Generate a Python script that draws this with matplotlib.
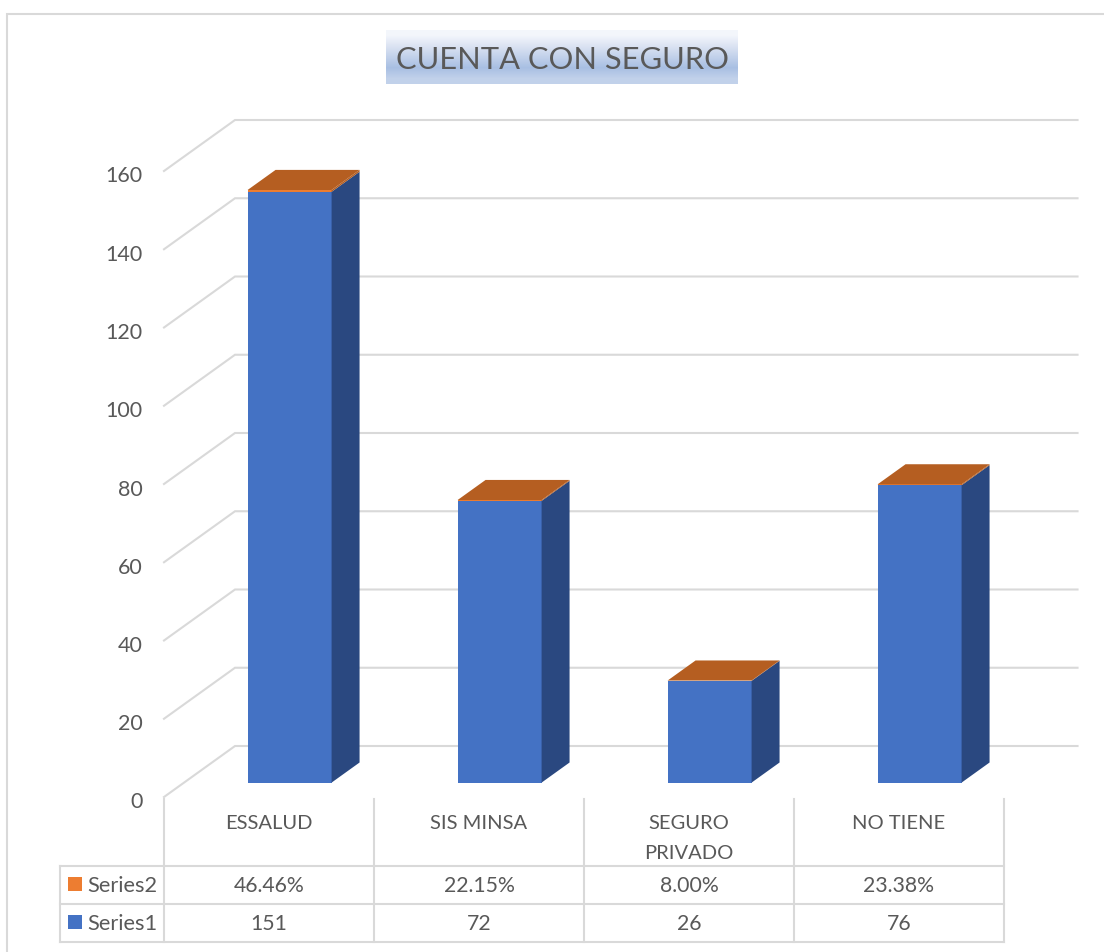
import numpy as np
import matplotlib.pyplot as plt
from matplotlib.patches import Polygon, Rectangle
from matplotlib.transforms import ScaledTranslation

plt.rcParams['font.family'] = ['Lato', 'DejaVu Sans']

title = 'CUENTA CON SEGURO'
categories = ['ESSALUD', 'SIS MINSA', 'SEGURO\nPRIVADO', 'NO TIENE']
series1 = [151, 72, 26, 76]
series2 = [0.4646, 0.2215, 0.08, 0.2338]
series2_labels = ['46.46%', '22.15%', '8.00%', '23.38%']
y_ticks = [0, 20, 40, 60, 80, 100, 120, 140, 160]

W, H = 1104, 952
TEXT = '#595959'
GRID = '#D9D9D9'
BLUE, BLUE_SIDE = '#4472C4', '#2A4880'
ORANGE, ORANGE_SIDE = '#ED7D31', '#B55E21'

# how far the back wall is moved from the front plane, in data units
DEPTH_X = 71 / 210
DEPTH_Y = 51 / (626 / 160)
BAR_DROP = 0.1  # bars sit a little lower than the projection gives


def project(x, y, d):
    return x + d * DEPTH_X, y + d * DEPTH_Y


fig = plt.figure(figsize=(W / 100, H / 100), dpi=100)

# pixel layer for frame, title box and table
bg = fig.add_axes([0, 0, 1, 1])
bg.set_xlim(0, W)
bg.set_ylim(H, 0)
bg.axis('off')

ax = fig.add_axes([164 / W, (H - 797) / H, 840 / W, 626 / H])
ax.set_xlim(0, 4)
ax.set_ylim(0, 160)
ax.patch.set_alpha(0)
for s in ax.spines.values():
    s.set_visible(False)
ax.set_xticks([])
ax.set_yticks(y_ticks)
ax.tick_params(axis='y', length=0, pad=15.5, labelsize=15.5, labelcolor=TEXT)
# labels sit a few pixels under their gridline
shift = ScaledTranslation(0, -3.5 / 100, fig.dpi_scale_trans)
for lab in ax.get_yticklabels():
    lab.set_transform(lab.get_transform() + shift)

# walls
for v in y_ticks:
    x0, y0 = project(0, v, 1)
    x1, y1 = project(4.012, v, 1)
    ax.plot([0, x0, x1], [v, y0, y1], color=GRID, lw=1.5, clip_on=False, zorder=1,
            solid_joinstyle='miter')

# bars
bar_w = 0.4
d0, d1 = 0.29, 0.29 + 0.394
for i, (a, b) in enumerate(zip(series1, series2)):
    left = i + 0.5 - bar_w / 2
    right = left + bar_w
    top = a + b
    faces = [
        ([(left, 0, d0), (right, 0, d0), (right, a, d0), (left, a, d0)], BLUE),
        ([(left, a, d0), (right, a, d0), (right, top, d0), (left, top, d0)], ORANGE),
        ([(right, 0, d0), (right, 0, d1), (right, a, d1), (right, a, d0)], BLUE_SIDE),
        ([(right, a, d0), (right, a, d1), (right, top, d1), (right, top, d0)], ORANGE_SIDE),
        ([(left, top, d0), (right, top, d0), (right, top, d1), (left, top, d1)], ORANGE_SIDE),
    ]
    for pts, c in faces:
        corners = [project(x, y - BAR_DROP, d) for x, y, d in pts]
        ax.add_patch(Polygon(corners, closed=True, facecolor=c, edgecolor='none',
                             clip_on=False, zorder=3))

# chart frame, only top and left show in the picture
bg.plot([7, 7, W], [H, 14, 14], color=GRID, lw=1.5, solid_joinstyle='miter')

# title box with gradient
grad = np.array([[0.955, 0.965, 0.988], [0.86, 0.89, 0.95], [0.76, 0.82, 0.92],
                 [0.66, 0.75, 0.89], [0.76, 0.82, 0.92]])
bg.imshow(grad[:, None, :], extent=[386, 738, 84, 30], aspect='auto', interpolation='bilinear',
          zorder=1)
bg.set_xlim(0, W)
bg.set_ylim(H, 0)
bg.text(562, 60, title, color=TEXT, fontsize=22.2, ha='center', va='center', zorder=2)

# data table
cols = [164, 374, 584, 794, 1004]
rows = [866, 904, 942]
for x in cols:
    bg.plot([x, x], [799, 942], color=GRID, lw=1.5)
for y in rows:
    bg.plot([60, 1004], [y, y], color=GRID, lw=1.5)
bg.plot([60, 60], [866, 942], color=GRID, lw=1.5)

for i, cat in enumerate(categories):
    cx = (cols[i] + cols[i + 1]) / 2
    bg.text(cx, 815, cat, color=TEXT, fontsize=14.5, ha='center', va='top', linespacing=1.9)
    bg.text(cx, 886.5, series2_labels[i], color=TEXT, fontsize=15.3, ha='center', va='center')
    bg.text(cx, 924.5, str(series1[i]), color=TEXT, fontsize=15.3, ha='center', va='center')

for name, c, y in [('Series2', ORANGE, 884), ('Series1', BLUE, 922)]:
    bg.add_patch(Rectangle((68, y - 7), 14, 14, facecolor=c, edgecolor='none'))
    bg.text(87, y + 1.5, name, color=TEXT, fontsize=15.7, ha='left', va='center')

fig.savefig('out.png', dpi=100, facecolor='white')
